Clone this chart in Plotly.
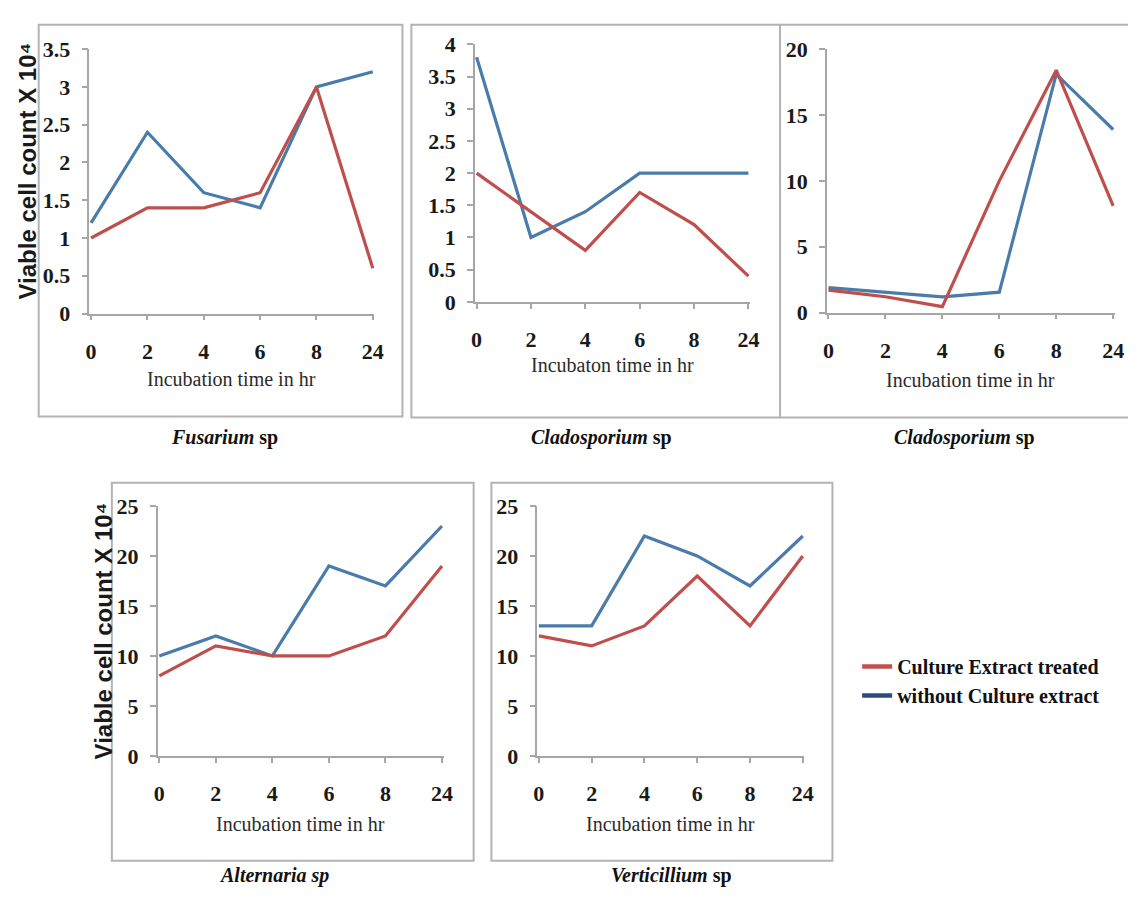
import plotly.graph_objects as go

# The page body has an 8px default margin, so the figure is offset by that amount
OFF = 8
FW, FH = 1129, 894

hours = ["0", "2", "4", "6", "8", "24"]

fusarium_treated = [1.0, 1.4, 1.4, 1.6, 3.0, 0.6]
fusarium_control = [1.2, 2.4, 1.6, 1.4, 3.0, 3.2]

clado1_treated = [2.0, 1.4, 0.8, 1.7, 1.2, 0.4]
clado1_control = [3.8, 1.0, 1.4, 2.0, 2.0, 2.0]

clado2_treated = [1.7, 1.2, 0.45, 10.0, 18.4, 8.1]
clado2_control = [1.9, 1.55, 1.2, 1.55, 18.1, 13.9]

alternaria_treated = [8, 11, 10, 10, 12, 19]
alternaria_control = [10, 12, 10, 19, 17, 23]

verticillium_treated = [12, 11, 13, 18, 13, 20]
verticillium_control = [13, 13, 22, 20, 17, 22]

legend_names = ["Culture Extract treated", "without Culture extract"]

RED = "#bf4f4c"
BLUE = "#4a7cab"
RED_LEG = "#c0504d"
BLUE_LEG = "#2c4a7f"
AXIS = "#a6a6a6"
BOX = "#b3b3b3"


def px(x):
    return (x - OFF) / FW


def py(y):
    return 1 - (y - OFF) / FH


panels = [
    dict(t=fusarium_treated, c=fusarium_control, x0=88, x1=373, y0=310, y1=38, ymax=3.5, dtick=0.5,
         title_y=377, label="<b><i>Fusarium</i> sp</b>", lab_x=223, lab_y=438, xt="Incubation time in hr"),
    dict(t=clado1_treated, c=clado1_control, x0=478, x1=753, y0=298, y1=33, ymax=4, dtick=0.5,
         title_y=363, label="<b><i>Cladosporium</i> sp</b>", lab_x=604, lab_y=438, xt="Incubaton time in hr"),
    dict(t=clado2_treated, c=clado2_control, x0=834, x1=1122, y0=309, y1=38, ymax=20, dtick=5,
         title_y=378, label="<b><i>Cladosporium</i> sp</b>", lab_x=972, lab_y=438, xt="Incubation time in hr"),
    dict(t=alternaria_treated, c=alternaria_control, x0=157, x1=443, y0=765, y1=508, ymax=25, dtick=5,
         title_y=835, label="<b><i>Alternaria sp</i></b>", lab_x=273, lab_y=888, xt="Incubation time in hr"),
    dict(t=verticillium_treated, c=verticillium_control, x0=541, x1=808, y0=765, y1=508, ymax=25, dtick=5,
         title_y=835, label="<b><i>Verticillium</i> sp</b>", lab_x=675, lab_y=888, xt="Incubation time in hr"),
]

fig = go.Figure()
layout = {}
annotations = []
shapes = []

TICKFONT = dict(family="Liberation Serif", size=22, color="#1a1a1a", weight="bold")
PAD = 0.03
for i, p in enumerate(panels):
    n = i + 1
    xa = "x" if n == 1 else f"x{n}"
    ya = "y" if n == 1 else f"y{n}"
    unit = (p["x1"] - p["x0"]) / 5
    left = p["x0"] - PAD * unit
    right = p["x1"] + PAD * unit
    layout[f"xaxis{'' if n == 1 else n}"] = dict(
        domain=[px(left), px(right)], anchor=ya, type="category",
        range=[-PAD, 5 + PAD], showgrid=False, zeroline=False,
        showline=True, linecolor=AXIS, linewidth=1.5,
        ticks="outside", ticklen=5, tickcolor=AXIS, tickwidth=1.5,
        tickfont=TICKFONT, ticklabelstandoff=12, fixedrange=True,
    )
    layout[f"yaxis{'' if n == 1 else n}"] = dict(
        domain=[py(p["y0"]), py(p["y1"])], anchor=xa,
        range=[0, p["ymax"]], dtick=p["dtick"], showgrid=False, zeroline=False,
        showline=True, linecolor=AXIS, linewidth=1.5,
        ticks="outside", ticklen=6, tickcolor=AXIS, tickwidth=1.5,
        tickfont=TICKFONT, ticklabelstandoff=7, fixedrange=True,
    )
    fig.add_trace(go.Scatter(x=hours, y=p["c"], mode="lines", line=dict(color=BLUE, width=3.2),
                             xaxis=xa, yaxis=ya, showlegend=False, cliponaxis=False))
    fig.add_trace(go.Scatter(x=hours, y=p["t"], mode="lines", line=dict(color=RED, width=3.2),
                             xaxis=xa, yaxis=ya, showlegend=False, cliponaxis=False))
    annotations.append(dict(text=p["xt"], x=px((p["x0"] + p["x1"]) / 2), y=py(p["title_y"]),
                            xref="paper", yref="paper", showarrow=False, xanchor="center", yanchor="middle",
                            font=dict(family="Liberation Serif", size=20, color="#2a2a2a")))
    annotations.append(dict(text=p["label"], x=px(p["lab_x"]), y=py(p["lab_y"]),
                            xref="paper", yref="paper", showarrow=False, xanchor="center", yanchor="middle",
                            font=dict(family="Liberation Serif", size=20, color="#111111")))

# legend traces
fig.add_trace(go.Scatter(x=[None], y=[None], mode="lines", name=legend_names[0],
                         line=dict(color=RED_LEG, width=4.5)))
fig.add_trace(go.Scatter(x=[None], y=[None], mode="lines", name=legend_names[1],
                         line=dict(color=BLUE_LEG, width=4.5)))

ytitle = "Viable cell count X 10⁴"
for (tx, ty) in [(24, 163), (100, 636)]:
    annotations.append(dict(text=f"<b>{ytitle}</b>", x=px(tx), y=py(ty), xref="paper", yref="paper",
                            showarrow=False, textangle=-90, xanchor="center", yanchor="middle",
                            font=dict(family="Liberation Sans", size=24, color="#1a1a1a")))


def rect(x0, y0, x1, y1):
    return dict(type="rect", xref="paper", yref="paper", x0=px(x0), x1=px(x1),
                y0=py(y1), y1=py(y0), line=dict(color=BOX, width=2), layer="below")


def hline(x0, x1, y):
    return dict(type="line", xref="paper", yref="paper", x0=px(x0), x1=px(x1),
                y0=py(y), y1=py(y), line=dict(color=BOX, width=2), layer="below")


shapes += [
    rect(35, 13, 403, 416),
    rect(412, 13, 785, 417),
    hline(785, 1137, 13), hline(785, 1137, 417),
    rect(109, 484, 475, 873),
    rect(493, 484, 838, 873),
]

fig.update_layout(
    width=FW, height=FH, margin=dict(l=0, r=0, t=0, b=0),
    paper_bgcolor="white", plot_bgcolor="white",
    annotations=annotations, shapes=shapes,
    legend=dict(x=px(863), y=py(653), xanchor="left", yanchor="top",
                bgcolor="rgba(0,0,0,0)", tracegroupgap=0,
                font=dict(family="Liberation Serif", size=20, color="#111111", weight="bold")),
    **layout,
)

fig.write_html("out.html")
